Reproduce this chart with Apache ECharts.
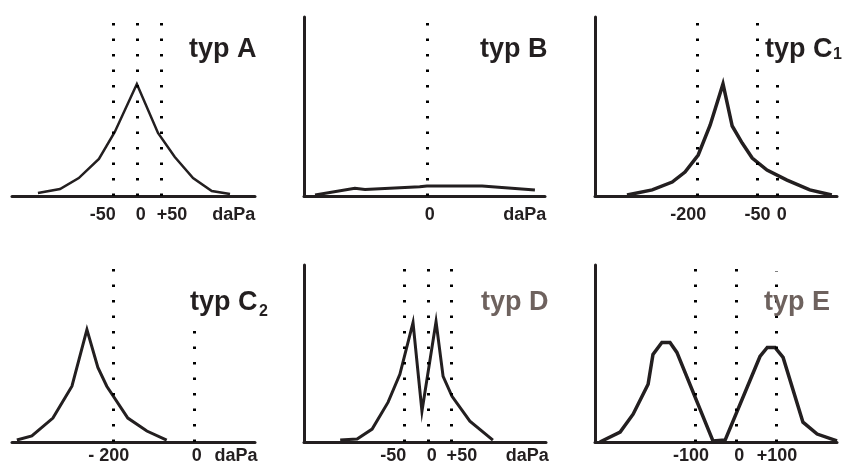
<!DOCTYPE html>
<html><head><meta charset="utf-8">
<script src="https://cdn.jsdelivr.net/npm/echarts@6/dist/echarts.min.js"></script>
<style>html,body{margin:0;padding:0;background:#fff}#c{width:845px;height:465px}</style>
</head><body><div id="c"></div>
<script>
// ---- Data (pressure in daPa, amplitude in % of panel height) ----
// typ A
const aPressure  = [-206,-160,-121,-79,-46,0,44,79,117,156,194];
const aAmplitude = [1.7,3.9,10,20.7,35.8,62.6,35.2,21.8,10,2.8,1.1];
const aGuides    = [-50,0,50];
const aGuideTops = [97.8,97.8,97.8];
const aTickLabels = ['-50','0','+50','daPa'];
const aTickPos    = [-71,8,73,202];
// typ B
const bPressure  = [-233,-150,-129,-15,0,115,225];
const bAmplitude = [0.6,4.3,3.7,5.2,5.6,5.6,3.4];
const bGuides    = [0];
const bGuideTops = [97.8];
const bTickLabels = ['0','daPa'];
const bTickPos    = [6,204];
// typ C1
const c1Pressure  = [-375,-312,-262,-230,-197,-167,-135,-112,-87,-62,-25,25,82,137];
const c1Amplitude = [0.6,3.4,7.8,13.4,22.9,39.7,62.6,39.1,29.6,21.2,14.5,8.9,3.4,0.6];
const c1Guides    = [-200,-50,0];
const c1GuideTops = [97.8,97.8,63];
const c1TickLabels = ['-200','-50','0'];
const c1TickPos    = [-222,-49,12];
// typ C2
const c2Pressure  = [-437,-400,-348,-301,-264,-237,-215,-163,-116,-67];
const c2Amplitude = [1.1,3.4,13.5,31.5,63.5,42.1,31.5,13.5,6.2,1.1];
const c2Guides    = [-200,0];
const c2GuideTops = [98.9,63.5];
const c2TickLabels = ['- 200','0','daPa'];
const c2TickPos    = [-210,7,104];
// typ D
const dPressure  = [-187,-151,-119,-85,-60,-32,-13,17,32,51,89,138];
const dAmplitude = [1.1,1.7,7.3,22.5,38.2,67.4,17.4,68.0,37.1,25.8,11.8,1.1];
const dGuides    = [-50,0,50];
const dGuideTops = [98.9,98.9,98.9];
const dTickLabels = ['-50','0','+50','daPa'];
const dTickPos    = [-74,8,72,211];
// typ E
const ePressure  = [-336,-286,-254,-217,-205,-183,-163,-146,-57,-27,59,77,96,116,165,200,249];
const eAmplitude = [0,5.6,15.7,32.6,49.4,56.2,56.2,50.6,0.6,1.1,48.3,53.4,53.4,47.8,11.2,4.5,0.6];
const eGuides    = [-100,0,100];
const eGuideTops = [99.4,99.4,96.6];
const eTickLabels = ['-100','0','+100'];
const eTickPos    = [-111,8,101];

const INK = '#231f20';
const GREY = '#6e625e';

// ---- Layout ----
const panels = [
  {x:aPressure, y:aAmplitude, g:aGuides, gt:aGuideTops, tl:aTickLabels, tp:aTickPos,
   grid:{left:12,top:17,width:243,height:179}, min:-260, max:246, yLine:false, lw:2.5, margin:10},
  {x:bPressure, y:bAmplitude, g:bGuides, gt:bGuideTops, tl:bTickLabels, tp:bTickPos,
   grid:{left:304,top:17,width:241,height:179}, min:-256, max:246, yLine:true, lw:3, margin:10},
  {x:c1Pressure, y:c1Amplitude, g:c1Guides, gt:c1GuideTops, tl:c1TickLabels, tp:c1TickPos,
   grid:{left:595,top:17,width:242,height:179}, min:-455, max:150, yLine:true, lw:3.5, margin:10},
  {x:c2Pressure, y:c2Amplitude, g:c2Guides, gt:c2GuideTops, tl:c2TickLabels, tp:c2TickPos,
   grid:{left:12,top:265,width:243,height:178}, min:-449, max:151, yLine:false, lw:3, margin:5},
  {x:dPressure, y:dAmplitude, g:dGuides, gt:dGuideTops, tl:dTickLabels, tp:dTickPos,
   grid:{left:304,top:265,width:242,height:178}, min:-264, max:251, yLine:true, lw:3, margin:5},
  {x:ePressure, y:eAmplitude, g:eGuides, gt:eGuideTops, tl:eTickLabels, tp:eTickPos,
   grid:{left:595,top:265,width:242,height:178}, min:-348, max:249, yLine:true, lw:3.5, margin:5}
];

const grids = [], xAxes = [], yAxes = [], series = [];
panels.forEach((p, i) => {
  grids.push(Object.assign({containLabel:false}, p.grid));
  xAxes.push({
    type:'value', gridIndex:i, min:p.min, max:p.max,
    axisLine:{show:true, onZero:false, lineStyle:{color:INK, width:3}},
    axisTick:{show:false}, splitLine:{show:false},
    axisLabel:{
      show:true, customValues:p.tp, margin:p.margin,
      color:INK, fontFamily:'Liberation Sans, Arial, sans-serif', fontWeight:'bold', fontSize:18,
      formatter:(v) => { const k = p.tp.indexOf(v); return k >= 0 ? p.tl[k] : ''; }
    }
  });
  yAxes.push({
    type:'value', gridIndex:i, min:0, max:100,
    axisLine:{show:p.yLine, onZero:false, lineStyle:{color:INK, width:3}},
    axisTick:{show:false}, splitLine:{show:false}, axisLabel:{show:false}
  });
  series.push({
    type:'line', xAxisIndex:i, yAxisIndex:i, symbol:'none', smooth:false,
    data:p.x.map((v, k) => [v, p.y[k]]),
    lineStyle:{color:INK, width:p.lw, join:'miter'},
    z:3,
    markLine:{
      silent:true, symbol:['none','none'], animation:false,
      label:{show:false},
      lineStyle:{color:'#000000', width:3, type:[2.5,13], cap:'butt'},
      data:p.g.map((gv, k) => [{coord:[gv, 0]}, {coord:[gv, p.gt[k]]}])
    }
  });
});

const titleFont = 'bold 27px "Liberation Sans", Arial, sans-serif';
const subFont = 'bold 16px "Liberation Sans", Arial, sans-serif';
function txt(text, x, y, font, color){
  return {type:'text', x:x, y:y, silent:true, z:10,
    style:{text:text, font:font, fill:color, verticalAlign:'middle', align:'left'}};
}
const graphics = [
  txt('typ A', 189, 50, titleFont, INK),
  txt('typ B', 480, 50, titleFont, INK),
  txt('typ C', 765, 50, titleFont, INK),
  txt('1', 833, 55, subFont, INK),
  txt('typ C', 190, 303, titleFont, INK),
  txt('2', 259, 312, subFont, INK),
  txt('typ D', 481, 303, titleFont, GREY),
  txt('typ E', 764, 303, titleFont, GREY)
];

const chart = echarts.init(document.getElementById('c'), null, {renderer:'canvas'});
chart.setOption({
  animation:false,
  backgroundColor:'#ffffff',
  grid:grids, xAxis:xAxes, yAxis:yAxes, series:series,
  graphic:graphics
});
</script></body></html>
